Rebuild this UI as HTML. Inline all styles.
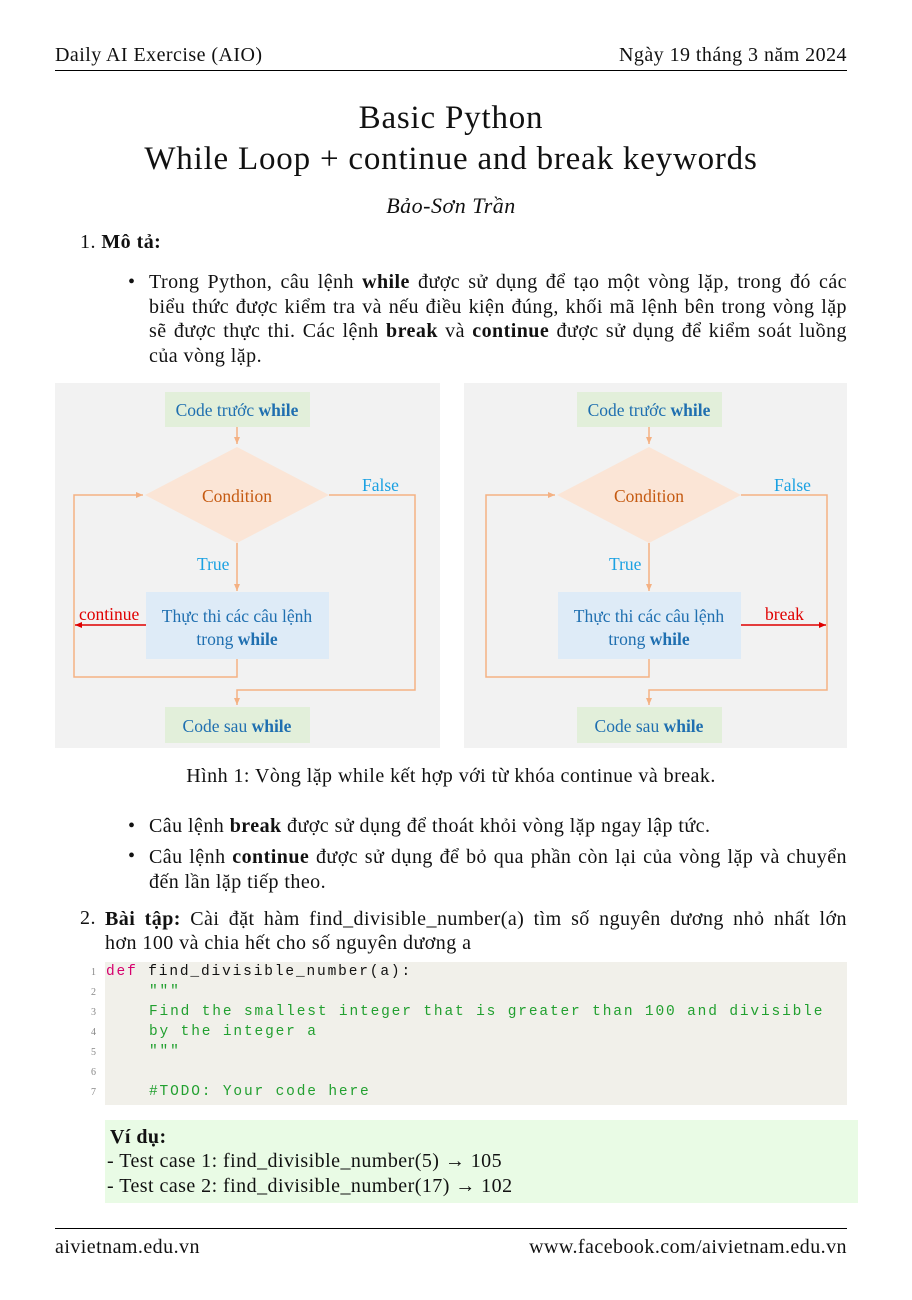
<!DOCTYPE html>
<html><head><meta charset="utf-8"><style>
body{margin:0;width:912px;height:1300px;background:#fff;position:relative;font-family:"Liberation Serif",serif;color:#111;overflow:hidden}
.a{position:absolute;white-space:nowrap}
.t{font-size:20px;letter-spacing:0.45px}
.code{font-family:"Liberation Mono",monospace;font-size:14.5px;letter-spacing:1.85px;color:#22a030}
.ln{font-family:"Liberation Serif",serif;font-size:10px;color:#888;width:12px;text-align:right}
</style></head><body>
<div class="a t" style="left:55px;top:44px">Daily AI Exercise (AIO)</div>
<div class="a t" style="right:65px;top:44px">Ngày 19 tháng 3 năm 2024</div>
<div class="a" style="left:55px;top:70px;width:792px;height:1px;background:#000"></div>

<div class="a" style="left:0;width:902px;text-align:center;top:100px;font-size:33px;letter-spacing:0.8px">Basic Python</div>
<div class="a" style="left:0;width:902px;text-align:center;top:141px;font-size:33px;letter-spacing:0.8px">While Loop + continue and break keywords</div>
<div class="a" style="left:0;width:902px;text-align:center;top:193px;font-size:22px;letter-spacing:0.5px;font-style:italic">Bảo-Sơn Trần</div>

<div class="a t" style="left:80px;top:231px">1. <b>Mô tả:</b></div>
<div class="a t" style="left:128px;top:271px">•</div>
<div class="a t" style="left:149px;top:270px;width:698px;white-space:normal;line-height:24.5px;text-align:justify">Trong Python, câu lệnh <b>while</b> được sử dụng để tạo một vòng lặp, trong đó các biểu thức được kiểm tra và nếu điều kiện đúng, khối mã lệnh bên trong vòng lặp sẽ được thực thi. Các lệnh <b>break</b> và <b>continue</b> được sử dụng để kiểm soát luồng của vòng lặp.</div>

<svg class="a" style="left:0;top:0" width="912" height="760" font-family="Liberation Serif, serif">
<defs>
<marker id="o" markerWidth="8" markerHeight="8" refX="7" refY="4" orient="auto" markerUnits="userSpaceOnUse"><path d="M0,1 L7,4 L0,7z" fill="#f4b183"/></marker>
<marker id="r" markerWidth="8" markerHeight="8" refX="7" refY="4" orient="auto" markerUnits="userSpaceOnUse"><path d="M0,1 L7,4 L0,7z" fill="#e00000"/></marker>
</defs>
<rect x="55" y="383" width="385" height="365" fill="#f2f2f2"/>
<rect x="464" y="383" width="383" height="365" fill="#f2f2f2"/>
<g id="d1">
<rect x="165" y="392" width="145" height="35" fill="#e2efda"/>
<text x="237" y="416" text-anchor="middle" font-size="17.5" fill="#1f6fb0">Code trước <tspan font-weight="bold">while</tspan></text>
<line x1="237" y1="427" x2="237" y2="444" stroke="#f4b183" stroke-width="1.5" marker-end="url(#o)"/>
<polygon points="145,495 237,447 329,495 237,543" fill="#fbe5d6"/>
<text x="237" y="502" text-anchor="middle" font-size="17.5" fill="#c55a11">Condition</text>
<line x1="237" y1="543" x2="237" y2="591" stroke="#f4b183" stroke-width="1.5" marker-end="url(#o)"/>
<text x="197" y="570" font-size="17.5" fill="#1ba1e2">True</text>
<rect x="146" y="592" width="183" height="67" fill="#deebf7"/>
<text x="237" y="622" text-anchor="middle" font-size="17.5" fill="#1f6fb0">Thực thi các câu lệnh</text>
<text x="237" y="645" text-anchor="middle" font-size="17.5" fill="#1f6fb0">trong <tspan font-weight="bold">while</tspan></text>
<polyline points="237,659 237,677 74,677 74,495 143,495" fill="none" stroke="#f4b183" stroke-width="1.5" marker-end="url(#o)"/>
<polyline points="329,495 415,495 415,690 237,690 237,705" fill="none" stroke="#f4b183" stroke-width="1.5" marker-end="url(#o)"/>
<text x="362" y="491" font-size="17.5" fill="#1ba1e2">False</text>
<rect x="165" y="707" width="145" height="36" fill="#e2efda"/>
<text x="237" y="732" text-anchor="middle" font-size="17.5" fill="#1f6fb0">Code sau <tspan font-weight="bold">while</tspan></text>
</g>
<line x1="146" y1="625" x2="75" y2="625" stroke="#e00000" stroke-width="1.5" marker-end="url(#r)"/>
<text x="79" y="620" font-size="17.5" fill="#e00000">continue</text>
<use href="#d1" transform="translate(412,0)"/>
<line x1="741" y1="625" x2="826" y2="625" stroke="#e00000" stroke-width="1.5" marker-end="url(#r)"/>
<text x="765" y="620" font-size="17.5" fill="#e00000">break</text>
</svg>
<div class="a t" style="left:0;width:902px;text-align:center;top:765px">Hình 1: Vòng lặp while kết hợp với từ khóa continue và break.</div>

<div class="a t" style="left:128px;top:815px">•</div>
<div class="a t" style="left:149px;top:815px">Câu lệnh <b>break</b> được sử dụng để thoát khỏi vòng lặp ngay lập tức.</div>
<div class="a t" style="left:128px;top:845px">•</div>
<div class="a t" style="left:149px;top:845px;width:698px;white-space:normal;line-height:24.5px;text-align:justify">Câu lệnh <b>continue</b> được sử dụng để bỏ qua phần còn lại của vòng lặp và chuyển đến lần lặp tiếp theo.</div>

<div class="a t" style="left:80px;top:907px">2.</div>
<div class="a t" style="left:105px;top:907px;width:742px;white-space:normal;line-height:24.5px;text-align:justify;text-align-last:justify"><b>Bài tập:</b> Cài đặt hàm find_divisible_number(a) tìm số nguyên dương nhỏ nhất lớn</div>
<div class="a t" style="left:105px;top:931px;line-height:24.5px">hơn 100 và chia hết cho số nguyên dương a</div>

<div class="a" style="left:105px;top:962px;width:742px;height:143px;background:#f1f0ea"></div>
<div class="a ln" style="left:84px;top:967px">1</div><div class="a ln" style="left:84px;top:987px">2</div><div class="a ln" style="left:84px;top:1007px">3</div><div class="a ln" style="left:84px;top:1027px">4</div><div class="a ln" style="left:84px;top:1047px">5</div><div class="a ln" style="left:84px;top:1067px">6</div><div class="a ln" style="left:84px;top:1087px">7</div>
<div class="a code" style="left:106px;top:964px"><span style="color:#d6006e">def</span> <span style="color:#111">find_divisible_number(a):</span></div>
<div class="a code" style="left:149px;top:984px">"""</div>
<div class="a code" style="left:149px;top:1004px">Find the smallest integer that is greater than 100 and divisible</div>
<div class="a code" style="left:149px;top:1024px">by the integer a</div>
<div class="a code" style="left:149px;top:1044px">"""</div>
<div class="a code" style="left:149px;top:1084px">#TODO: Your code here</div>

<div class="a" style="left:105px;top:1120px;width:753px;height:83px;background:#e9fbe5"></div>
<div class="a t" style="left:110px;top:1126px"><b>Ví dụ:</b></div>
<div class="a t" style="left:107px;top:1150px">- Test case 1: find_divisible_number(5) → 105</div>
<div class="a t" style="left:107px;top:1175px">- Test case 2: find_divisible_number(17) → 102</div>

<div class="a" style="left:55px;top:1228px;width:792px;height:1px;background:#000"></div>
<div class="a t" style="left:55px;top:1236px">aivietnam.edu.vn</div>
<div class="a t" style="right:65px;top:1236px">www.facebook.com/aivietnam.edu.vn</div>
</body></html>
